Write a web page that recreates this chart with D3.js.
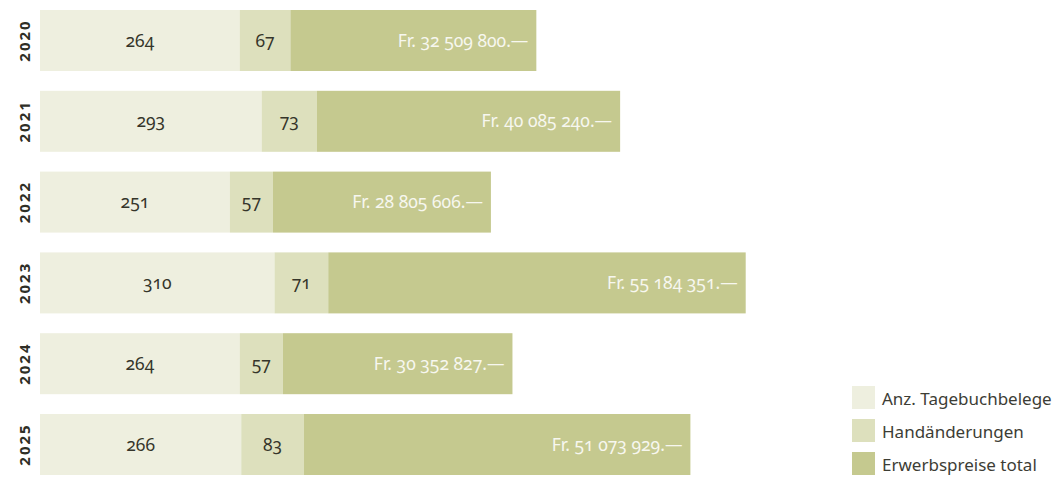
<!DOCTYPE html>
<html>
<head>
<meta charset="utf-8">
<script src="https://cdn.jsdelivr.net/npm/d3@7"></script>
<style>
  html, body { margin: 0; padding: 0; background: #fff; }
  svg { display: block; }
  .val { font-family: "Noto Sans", sans-serif; font-size: 17.5px; font-variant-numeric: oldstyle-nums; font-feature-settings: "onum" 1; }
  .leg { font-family: "Noto Sans", sans-serif; font-size: 17px; }
</style>
</head>
<body>
<svg id="chart" width="1055" height="477"></svg>
<script>
const years = ["2020", "2021", "2022", "2023", "2024", "2025"];
const tagebuchbelege = [264, 293, 251, 310, 264, 266];
const handaenderungen = [67, 73, 57, 71, 57, 83];
const erwerbspreise = [32509800, 40085240, 28805606, 55184351, 30352827, 51073929];
const seriesNames = ["Anz. Tagebuchbelege", "Handänderungen", "Erwerbspreise total"];
const colors = ["#eeefdf", "#dde0bd", "#c5c98f"];
const priceUnit = 100000; // francs per drawing unit

const svg = d3.select("#chart");

const x = d3.scaleLinear().domain([0, 1000]).range([40, 40 + 756.5]);
const y = d3.scaleBand().domain(years).range([10, 475]).paddingInner(0.245).paddingOuter(0);

const fmt = v => "Fr. " + d3.format(",")(v).replace(/,/g, " ") + ".—";

const rows = years.map((yr, i) => {
  const a = tagebuchbelege[i], b = handaenderungen[i], c = erwerbspreise[i] / priceUnit;
  return { yr, segs: [
    { s: 0, x0: 0, x1: a, label: String(tagebuchbelege[i]) },
    { s: 1, x0: a, x1: a + b, label: String(handaenderungen[i]) },
    { s: 2, x0: a + b, x1: a + b + c, label: fmt(erwerbspreise[i]) }
  ]};
});

const g = svg.selectAll("g.row").data(rows).enter().append("g").attr("class", "row");

g.selectAll("rect").data(d => d.segs.map(s => ({ ...s, yr: d.yr }))).enter().append("rect")
  .attr("x", d => x(d.x0))
  .attr("width", d => x(d.x1) - x(d.x0))
  .attr("y", d => y(d.yr))
  .attr("height", y.bandwidth())
  .attr("fill", d => colors[d.s]);

g.selectAll("text.val").data(d => d.segs.map(s => ({ ...s, yr: d.yr }))).enter().append("text")
  .attr("class", "val")
  .attr("x", d => d.s < 2 ? (x(d.x0) + x(d.x1)) / 2 : x(d.x1) - 8)
  .attr("y", d => y(d.yr) + y.bandwidth() / 2)
  .attr("dy", "0.35em")
  .attr("text-anchor", d => d.s < 2 ? "middle" : "end")
  .attr("fill", d => d.s < 2 ? "#35352a" : "#f7f7ef")
  .text(d => d.label);

// Year axis labels (rotated)
const yAxis = d3.axisLeft(y).tickSize(0).tickPadding(0);
const ag = svg.append("g").attr("transform", "translate(25,0)").call(yAxis);
ag.select(".domain").remove();
ag.selectAll(".tick text")
  .attr("transform", "rotate(-90)")
  .attr("x", 0).attr("y", 0)
  .attr("dy", "0.36em")
  .attr("text-anchor", "middle")
  .attr("fill", "#2e2e26")
  .style("font-family", "'Noto Sans', sans-serif")
  .style("font-size", "15px")
  .style("font-weight", "bold")
  .style("letter-spacing", "2px");

// Legend
const legend = svg.append("g").attr("transform", "translate(852,386)");
const li = legend.selectAll("g").data(seriesNames).enter().append("g")
  .attr("transform", (d, i) => `translate(0,${i * 33})`);
li.append("rect").attr("width", 23).attr("height", 23).attr("fill", (d, i) => colors[i]);
li.append("text").attr("class", "leg").attr("x", 30).attr("y", 12).attr("dy", "0.4em")
  .attr("fill", "#3d3d35").text(d => d);
</script>
</body>
</html>
